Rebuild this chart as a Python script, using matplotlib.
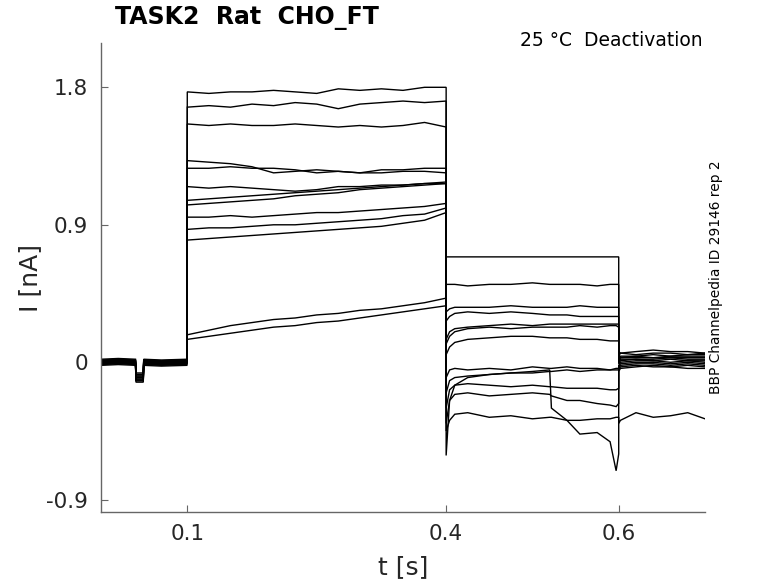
import numpy as np
import matplotlib
matplotlib.use("Agg")
import matplotlib.pyplot as plt

plt.rcParams['font.family'] = ['DejaVu Sans']

# ---------------- data ----------------
pre_t = [0.0, 0.02, 0.04, 0.0405, 0.049, 0.0495, 0.07, 0.0995]
baseline = [0.02, 0.015, 0.01, 0.01, 0.005, 0.0, 0.0, -0.005, -0.01, -0.01, -0.015, -0.02, 0.0]
dip = [-0.07, -0.08, -0.09, -0.10, -0.11, -0.12, -0.13, -0.12, -0.10, -0.09, -0.11, -0.12, -0.08]

step_t = [0.1, 0.125, 0.15, 0.175, 0.2, 0.225, 0.25, 0.275, 0.3, 0.325, 0.35, 0.375, 0.4]
step_vals = [
    [1.77, 1.76, 1.77, 1.77, 1.78, 1.77, 1.76, 1.79, 1.78, 1.79, 1.78, 1.80, 1.80],
    [1.67, 1.68, 1.67, 1.69, 1.68, 1.70, 1.69, 1.66, 1.69, 1.70, 1.71, 1.70, 1.71],
    [1.56, 1.55, 1.56, 1.55, 1.55, 1.56, 1.55, 1.54, 1.55, 1.54, 1.55, 1.57, 1.54],
    [1.32, 1.31, 1.30, 1.28, 1.24, 1.25, 1.26, 1.25, 1.24, 1.26, 1.26, 1.27, 1.27],
    [1.27, 1.27, 1.28, 1.27, 1.27, 1.26, 1.24, 1.25, 1.24, 1.24, 1.25, 1.25, 1.24],
    [1.15, 1.14, 1.15, 1.14, 1.13, 1.12, 1.13, 1.15, 1.15, 1.16, 1.16, 1.17, 1.17],
    [1.06, 1.07, 1.08, 1.09, 1.10, 1.11, 1.12, 1.13, 1.14, 1.15, 1.16, 1.17, 1.18],
    [1.03, 1.04, 1.05, 1.06, 1.07, 1.09, 1.10, 1.11, 1.13, 1.14, 1.15, 1.16, 1.17],
    [0.95, 0.95, 0.96, 0.95, 0.96, 0.97, 0.98, 0.98, 0.99, 1.00, 1.01, 1.02, 1.04],
    [0.87, 0.88, 0.88, 0.89, 0.90, 0.90, 0.91, 0.92, 0.93, 0.94, 0.96, 0.97, 1.01],
    [0.80, 0.81, 0.82, 0.83, 0.84, 0.85, 0.86, 0.87, 0.88, 0.89, 0.91, 0.93, 0.98],
    [0.18, 0.21, 0.24, 0.26, 0.28, 0.29, 0.31, 0.32, 0.34, 0.35, 0.37, 0.39, 0.42],
    [0.15, 0.17, 0.19, 0.21, 0.23, 0.24, 0.26, 0.27, 0.29, 0.31, 0.33, 0.35, 0.37],
]

tail_t = [0.4, 0.404, 0.41, 0.425, 0.45, 0.475, 0.5, 0.52, 0.522, 0.54, 0.555, 0.575, 0.59, 0.597, 0.6]
tail_vals = [
    [0.69, 0.69, 0.69, 0.69, 0.69, 0.69, 0.69, 0.69, 0.69, 0.69, 0.69, 0.69, 0.69, 0.69, 0.69],
    [0.51, 0.51, 0.51, 0.50, 0.51, 0.51, 0.52, 0.51, 0.51, 0.51, 0.51, 0.50, 0.51, 0.51, 0.51],
    [0.33, 0.35, 0.36, 0.36, 0.36, 0.37, 0.36, 0.36, 0.36, 0.36, 0.37, 0.36, 0.36, 0.36, 0.36],
    [0.27, 0.30, 0.32, 0.33, 0.32, 0.33, 0.32, 0.31, 0.31, 0.31, 0.30, 0.30, 0.30, 0.30, 0.30],
    [0.15, 0.20, 0.22, 0.23, 0.24, 0.25, 0.24, 0.25, 0.25, 0.25, 0.25, 0.25, 0.25, 0.25, 0.25],
    [0.12, 0.17, 0.20, 0.22, 0.23, 0.22, 0.23, 0.23, 0.23, 0.23, 0.24, 0.23, 0.24, 0.24, 0.23],
    [0.05, 0.10, 0.13, 0.15, 0.16, 0.17, 0.17, 0.16, 0.16, 0.16, 0.15, 0.15, 0.14, 0.14, 0.14],
    [-0.10, -0.05, -0.04, -0.05, -0.04, -0.05, -0.03, -0.04, -0.04, -0.03, -0.04, -0.04, -0.05, -0.04, -0.04],
    [-0.20, -0.12, -0.10, -0.09, -0.08, -0.07, -0.07, -0.06, -0.06, -0.05, -0.06, -0.05, -0.05, -0.05, -0.05],
    [-0.30, -0.18, -0.15, -0.14, -0.15, -0.16, -0.15, -0.16, -0.16, -0.17, -0.17, -0.17, -0.18, -0.18, -0.17],
    [-0.40, -0.25, -0.21, -0.20, -0.22, -0.21, -0.20, -0.21, -0.22, -0.25, -0.25, -0.27, -0.28, -0.29, -0.27],
    [-0.61, -0.25, -0.15, -0.10, -0.08, -0.07, -0.06, -0.05, -0.30, -0.38, -0.47, -0.46, -0.52, -0.71, -0.60],
    [-0.45, -0.38, -0.34, -0.33, -0.36, -0.35, -0.37, -0.36, -0.36, -0.38, -0.38, -0.37, -0.37, -0.36, -0.36],
]

post_t = [0.6, 0.602, 0.62, 0.64, 0.66, 0.68, 0.70]
post_vals = [
    [0.07, 0.06, 0.07, 0.08, 0.07, 0.07, 0.06],
    [0.04, 0.06, 0.05, 0.06, 0.06, 0.05, 0.06],
    [0.02, 0.04, 0.04, 0.05, 0.04, 0.05, 0.05],
    [0.02, 0.03, 0.04, 0.03, 0.04, 0.04, 0.04],
    [0.01, 0.03, 0.03, 0.03, 0.03, 0.03, 0.03],
    [0.00, 0.02, 0.02, 0.02, 0.03, 0.02, 0.02],
    [-0.01, 0.01, 0.02, 0.01, 0.02, 0.01, 0.01],
    [-0.02, 0.00, 0.01, 0.01, 0.00, 0.01, 0.00],
    [-0.03, -0.01, 0.00, 0.00, -0.01, 0.00, -0.01],
    [-0.04, -0.02, -0.01, -0.01, -0.02, -0.01, -0.02],
    [-0.05, -0.03, -0.02, -0.03, -0.03, -0.02, -0.03],
    [-0.06, -0.04, -0.03, -0.02, -0.03, -0.04, -0.04],
    [-0.40, -0.38, -0.33, -0.36, -0.35, -0.33, -0.37],
]

x_ticks = [0.1, 0.4, 0.6]
x_ticklabels = ["0.1", "0.4", "0.6"]
y_ticks = [-0.9, 0.0, 0.9, 1.8]
y_ticklabels = ["-0.9", "0", "0.9", "1.8"]

title = "TASK2  Rat  CHO_FT"
subtitle = "25 \u00b0C  Deactivation"
side_note = "BBP Channelpedia ID 29146 rep 2"

# ---------------- figure ----------------
fig = plt.figure(figsize=(7.78, 5.83), dpi=100)
ax = fig.add_axes([101/778, 1 - 512/583, (705 - 101)/778, (512 - 43)/583])

for i in range(len(step_vals)):
    b = baseline[i]
    d = dip[i]
    pre_v = [b, b + 0.005, b, d, d, b, b - 0.005, b]
    t = list(pre_t) + list(step_t) + list(tail_t) + list(post_t)
    v = pre_v + step_vals[i] + tail_vals[i] + post_vals[i]
    ax.plot(t, v, color='black', lw=1.0, solid_joinstyle='miter')

ax.set_xlim(0.0, 0.70)
ax.set_ylim(-0.98, 2.09)
ax.set_xticks(x_ticks)
ax.set_xticklabels(x_ticklabels)
ax.set_yticks(y_ticks)
ax.set_yticklabels(y_ticklabels)

for s in ['top', 'right']:
    ax.spines[s].set_visible(False)
for s in ['left', 'bottom']:
    ax.spines[s].set_color('#666666')
    ax.spines[s].set_linewidth(1.0)
ax.tick_params(direction='in', length=5, width=0.8, colors='#666666',
               labelcolor='#262626', labelsize=15.5)
ax.tick_params(axis='y', pad=9.5)
ax.tick_params(axis='x', pad=9)

ax.set_xlabel("t [s]", fontsize=18, color='#262626')
ax.set_ylabel("I [nA]", fontsize=18, color='#262626')
ax.xaxis.set_label_coords(0.5, -(567 - 512) / 469, transform=ax.transAxes)
ax.yaxis.set_label_coords(-(101 - 30) / 604, 0.5, transform=ax.transAxes)
ax.xaxis.label.set_va('center')
ax.yaxis.label.set_va('center')

fig.text(115/778, 1 - 18/583, title, fontsize=17, fontweight='bold',
         ha='left', va='center', color='black')
fig.text(703/778, 1 - 40/583, subtitle, fontsize=13.5, ha='right', va='center',
         color='black')
fig.text(716/778, 1 - 277/583, side_note, fontsize=9.9, rotation=90,
         ha='center', va='center', color='black')

fig.savefig("out.png", dpi=100)
